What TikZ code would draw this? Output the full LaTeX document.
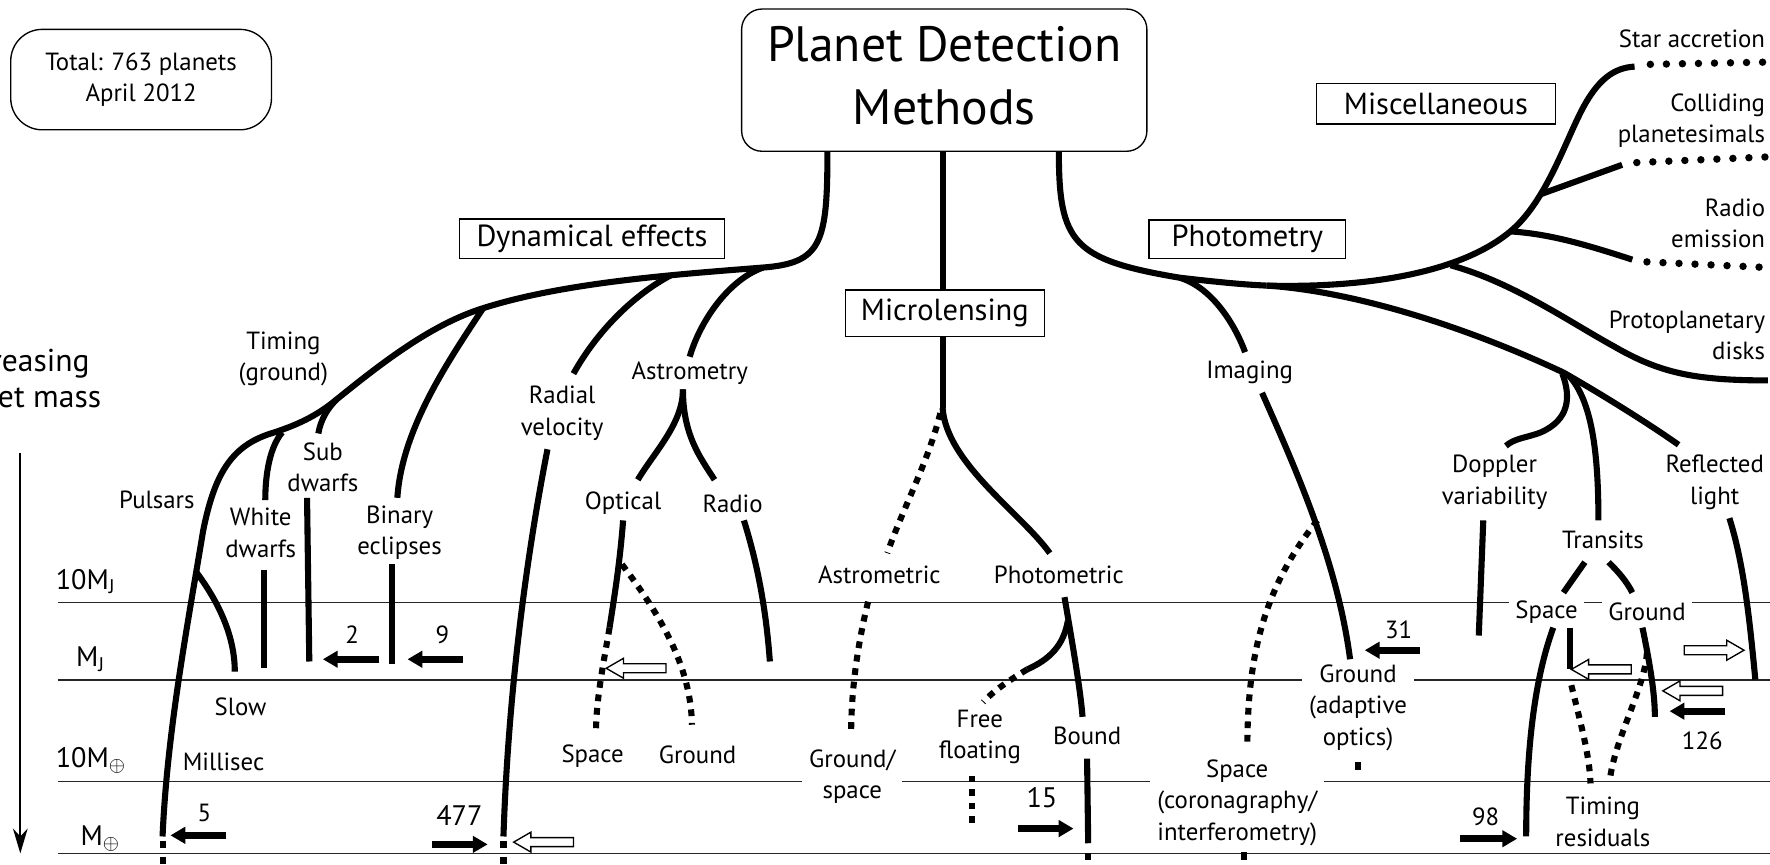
\documentclass[tikz,border=0pt]{standalone}
\usepackage{fontspec}
\setmainfont{PT Sans}
\usetikzlibrary{arrows.meta, shapes.arrows}

\tikzset{
  branch/.style={line width=2.7pt},
  dashbranch/.style={branch, dash pattern=on 3pt off 3pt},
  tipdash/.style={branch, dash pattern=on 3pt off 4pt},
  dotbranch/.style={line width=3.3pt, line cap=round, dash pattern=on 0pt off 7.1pt},
  level/.style={line width=0.6pt, black!85},
  lbl/.style={fill=white, inner sep=3pt, align=center, font=\fontsize{11}{14}\selectfont},
  misclbl/.style={inner sep=0pt, anchor=east, align=right, font=\fontsize{11}{14}\selectfont},
  numlbl/.style={inner sep=0pt, font=\fontsize{11}{14}\selectfont},
  bignum/.style={inner sep=0pt, font=\fontsize{12.5}{15}\selectfont},
  masslbl/.style={inner sep=0pt, anchor=west, font=\fontsize{12.5}{15}\selectfont},
  method/.style={draw, line width=0.6pt, fill=white, inner sep=0pt, font=\fontsize{13.5}{16}\selectfont},
  numarrow/.style={line width=3pt, -{Triangle[length=6.6pt,width=7.2pt]}},
  hollow/.style={single arrow, draw, line width=0.6pt, fill=white, inner xsep=0pt, inner ysep=1.7pt,
    minimum height=26.5pt, single arrow head extend=2.4pt, single arrow tip angle=60},
}

\begin{document}
\begin{tikzpicture}[x=0.5pt, y=-0.5pt]
\path[use as bounding box, clip] (0,0) rectangle (1568,766);

% headings
\node[draw, line width=0.6pt, rounded corners=9pt, minimum width=179.5pt, minimum height=63pt,
  inner sep=0pt, align=center, font=\fontsize{22}{28}\selectfont] (title) at (836.5,71) {};
\node[inner sep=0pt, align=center, font=\fontsize{22}{28}\selectfont] (titletext) at (836.5,67) {Planet Detection\\Methods};
\node[draw, line width=0.6pt, rounded corners=14pt, minimum width=115.5pt, minimum height=44.5pt,
  inner sep=0pt, align=center, font=\fontsize{11}{14}\selectfont] (total) at (125,70.5) {Total: 763 planets\\April 2012};
\node[method, minimum width=117.5pt, minimum height=17.5pt] (dyn) at (524.5,211.5) {Dynamical effects};
\node[method, minimum width=88pt, minimum height=20.5pt] (micro) at (837,277.5) {Microlensing};
\node[method, minimum width=87pt, minimum height=17pt] (phot) at (1105,212) {Photometry};
\node[method, minimum width=106pt, minimum height=18pt] (misc) at (1272,92) {Miscellaneous};

% mass axis
\node[anchor=east, inner sep=0pt, align=center, font=\fontsize{14}{16}\selectfont] (incr) at (90,338) {Increasing\\planet mass};
\coordinate (axtop) at (18,401);
\coordinate (axbot) at (18,756);
\draw[line width=1pt, -{Stealth[length=11pt,width=6.5pt,inset=3.5pt]}] (axtop) -- (axbot);

\draw[level] (51,533.5) -- (1568,533.5);
\draw[level] (51,602.4) -- (1568,602.4);
\draw[level] (51,692.5) -- (1568,692.5);
\draw[level] (51,756.3) -- (1568,756.3);

\node[masslbl] (mj10) at (49,515) {10M\textsubscript{J}};
\node[masslbl] (mj) at (67,584) {M\textsubscript{J}};
\node[masslbl] (me10) at (49,674) {10M\textsubscript{$\oplus$}};
\node[masslbl] (me) at (71,743) {M\textsubscript{$\oplus$}};

% labels
\node[lbl] (timing) at (251,318) {Timing\\(ground)};
\node[lbl] (pulsars) at (139,443) {Pulsars};
\node[lbl] (white) at (231,472) {White\\dwarfs};
\node[lbl] (sub) at (286,414) {Sub\\dwarfs};
\node[lbl] (binary) at (354,472) {Binary\\eclipses};
\node[lbl] (slow) at (213,626) {Slow};
\node[lbl] (milli) at (198,675) {Millisec};
\node[lbl] (radial) at (498,366) {Radial\\velocity};
\node[lbl] (astrom) at (611,331) {Astrometry};
\node[lbl] (optical) at (552,446) {Optical};
\node[lbl] (radio) at (649,446) {Radio};
\node[lbl] (optspace) at (525,670) {Space};
\node[lbl] (optground) at (618,669) {Ground};
\node[lbl] (astmetric) at (779,509) {Astrometric};
\node[lbl] (photmetric) at (938,509) {Photometric};
\node[lbl] (grspace) at (755,688) {Ground/\\space};
\node[lbl] (free) at (868,653) {Free\\floating};
\node[lbl] (bound) at (963,652) {Bound};
\node[lbl] (imaging) at (1107,330) {Imaging};
\node[lbl] (groundao) at (1203,627) {Ground\\(adaptive\\optics)};
\node[lbl] (spacecor) at (1096,711) {Space\\(coronagraphy/\\interferometry)};
\node[lbl] (doppler) at (1324,427) {Doppler\\variability};
\node[lbl] (reflect) at (1519,427) {Reflected\\light};
\node[lbl] (transits) at (1420,478) {Transits};
\node[lbl] (trspace) at (1370,542) {Space};
\node[lbl] (trground) at (1459,542) {Ground};
\node[lbl] (timres) at (1420,728) {Timing\\residuals};
\node[misclbl] (star) at (1564,34) {Star accretion};
\node[misclbl] (collide) at (1564,107) {Colliding\\planetesimals};
\node[misclbl] (radioem) at (1564,198) {Radio\\emission};
\node[misclbl] (proto) at (1564,297) {Protoplanetary\\disks};

% counts
\node[numlbl] (n2) at (312,562) {2};
\node[numlbl] (n9) at (392,562) {9};
\node[numlbl] (n5) at (181,720) {5};
\node[bignum] (n477) at (407,722) {477};
\node[bignum] (n15) at (923,707) {15};
\node[numlbl] (n31) at (1239,558) {31};
\node[numlbl] (n126) at (1508,656) {126};
\node[numlbl] (n98) at (1316,724) {98};

% junctions
\coordinate (dynstem) at (733,134);
\coordinate (dynA) at (676,237);
\coordinate (dynR) at (594,244);
\coordinate (dynB) at (428,273);
\coordinate (dynS) at (298,354);
\coordinate (dynW) at (240,384);
\coordinate (dynP) at (180,470);
\coordinate (slowJ) at (174,507);
\coordinate (astJ) at (605,345);
\coordinate (mlJ) at (835,361);
\coordinate (boundJ) at (946,550);
\coordinate (photstem) at (938,134);
\coordinate (imgJ) at (1045,246);
\coordinate (photJ) at (1122,253);
\coordinate (radioJ) at (1338,205);
\coordinate (collJ) at (1365,172);
\coordinate (protoJ) at (1285,235);
\coordinate (trJ) at (1385,330);

% dynamical effects
\draw[branch] (dynstem) .. controls (733,215) and (728,233) .. (dynA)
  .. controls (600,243) and (500,250) .. (dynB)
  .. controls (383,287) and (340,320) .. (dynS)
  .. controls (280,369) and (262,377) .. (dynW)
  .. controls (205,395) and (190,420) .. (dynP)
  .. controls (165,560) and (148,650) .. (144,741);
\draw[tipdash] (144,745) -- (144,770);
\draw[branch] (dynA) .. controls (645,248) and (620,285) .. (611,316);
\draw[branch] (dynR) .. controls (560,262) and (528,295) .. (508,331);
\draw[branch] (dynB) .. controls (397,320) and (356,380) .. (352,441);
\draw[branch] (dynS) .. controls (290,362) and (284,372) .. (282,384);
\draw[branch] (250,383) .. controls (239,396) and (235,420) .. (235,443);
\draw[branch] (slowJ) .. controls (195,535) and (208,565) .. (208,595);
\draw[branch] (234,505) -- (234,592);
\draw[branch] (272,441) -- (274,586);
\draw[branch] (347,500) -- (347,588);
\draw[branch] (485,398) .. controls (465,500) and (450,620) .. (446,741);
\draw[tipdash] (446,745) -- (446,770);
\draw[branch] (astJ) .. controls (605,375) and (580,400) .. (565,425);
\draw[branch] (astJ) .. controls (605,385) and (620,405) .. (633,425);
\draw[branch] (552,461) .. controls (549,500) and (544,530) .. (540,556);
\draw[dashbranch] (540,556) .. controls (535,585) and (528,620) .. (528,648);
\draw[dashbranch] (551,500) .. controls (585,545) and (612,590) .. (613,642);
\draw[branch] (659,461) .. controls (668,490) and (678,530) .. (682,586);

% microlensing
\draw[branch] (835,134) -- (micro.north -| 835,0);
\draw[branch] (micro.south -| 835,0) -- (mlJ);
\draw[branch] (mlJ) .. controls (838,410) and (905,455) .. (930,490);
\draw[dashbranch] (833,366) .. controls (822,410) and (800,450) .. (786,490);
\draw[dashbranch] (769,533) .. controls (760,570) and (754,610) .. (754,650);
\draw[branch] (943,529) .. controls (950,570) and (957,610) .. (959,635);
\draw[branch] (boundJ) .. controls (942,572) and (930,584) .. (910,593);
\draw[dashbranch] (910,593) .. controls (895,602) and (880,612) .. (871,622);
\draw[branch] (963,672) -- (964,747);
\draw[tipdash] (964,756) -- (964,770);
\draw[dashbranch] (861,687) -- (861,731);

% photometry
\draw[branch] (photstem) .. controls (938,215) and (950,230) .. (imgJ)
  .. controls (1080,250) and (1100,252) .. (photJ);
\draw[branch] (imgJ) .. controls (1075,255) and (1095,290) .. (1103,312);
\draw[branch] (1118,348) .. controls (1150,420) and (1185,500) .. (1196,584);
\draw[dashbranch] (1167,461) .. controls (1120,520) and (1105,580) .. (1105,662);
\draw[branch] (1102,755) -- (1102,762);
\draw[branch] (1203,675) -- (1203,682);
\draw[branch] (photJ) .. controls (1200,258) and (1300,290) .. (trJ)
  .. controls (1420,350) and (1460,375) .. (1487,394);
\draw[branch] (1384,331) .. controls (1392,352) and (1390,372) .. (1365,383)
  .. controls (1352,388) and (1342,388) .. (1334,395);
\draw[branch] (1390,333) .. controls (1410,355) and (1416,400) .. (1416,461);
\draw[branch] (1532,459) .. controls (1545,500) and (1550,550) .. (1555,602);
\draw[branch] (1314,461) -- (1310,563);
\draw[branch] (1404,498) -- (1385,525);
\draw[branch] (1425,498) .. controls (1434,507) and (1441,515) .. (1446,525);
\draw[branch] (1376,556) .. controls (1360,600) and (1352,660) .. (1352,741);
\draw[branch] (1391,556) -- (1391,593);
\draw[dashbranch] (1392,607) .. controls (1400,640) and (1408,668) .. (1409,694);
\draw[branch] (1455,556) .. controls (1462,590) and (1466,615) .. (1466,635);
\draw[dashbranch] (1459,578) .. controls (1457,610) and (1430,655) .. (1426,692);

% miscellaneous
\draw[branch] (photJ) .. controls (1200,255) and (1290,245) .. (radioJ)
  .. controls (1368,180) and (1385,130) .. (1400,100)
  .. controls (1415,70) and (1430,60) .. (1448,59);
\draw[branch] (collJ) -- (1437,146);
\draw[branch] (radioJ) .. controls (1370,207) and (1400,215) .. (1446,230);
\draw[branch] (protoJ) .. controls (1340,250) and (1390,285) .. (1430,307)
  .. controls (1470,330) and (1500,337) .. (1566,337);
\draw[dotbranch] (1462,57) -- (1566,55);
\draw[dotbranch] (1450,144) -- (1566,139);
\draw[dotbranch] (1459,232) -- (1566,237);

% count arrows
\draw[numarrow] (336,584) -- (286,584);
\draw[numarrow] (410,584) -- (361,584);
\draw[numarrow] (200,740) -- (151,740);
\draw[numarrow] (383,748) -- (432,748);
\draw[numarrow] (902,734) -- (951,734);
\draw[numarrow] (1258,576) -- (1209,576);
\draw[numarrow] (1528,630) -- (1479,630);
\draw[numarrow] (1293,743) -- (1344,743);
\node[hollow, shape border rotate=180] (h477) at (485,746) {};
\node[hollow, shape border rotate=180] (hopt) at (567,592) {};
\node[hollow, shape border rotate=180] (htr) at (1422,593) {};
\node[hollow] (hrefl) at (1515,576) {};
\node[hollow, shape border rotate=180] (h126) at (1503,612) {};
\end{tikzpicture}
\end{document}
